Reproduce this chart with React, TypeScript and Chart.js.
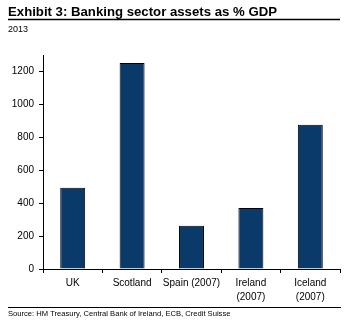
import React, { useEffect, useRef } from "react";
import { Chart, registerables } from "chart.js";

Chart.register(...registerables);

const categories: (string | string[])[] = ["UK", "Scotland", "Spain (2007)", ["Ireland", "(2007)"], ["Iceland", "(2007)"]];
const assetsPctGdp: number[] = [494, 1252, 262, 371, 877];
const yTicks: number[] = [0, 200, 400, 600, 800, 1000, 1200];

const titleText = "Exhibit 3: Banking sector assets as % GDP";
const subtitleText = "2013";
const sourceText = "Source: HM Treasury, Central Bank of Ireland, ECB, Credit Suisse";

const FONT = "'Liberation Sans', Arial, sans-serif";

const decorPlugin = {
  id: "decor",
  afterDraw(chart: any) {
    const ctx = chart.ctx;
    ctx.save();
    ctx.fillStyle = "#000";
    ctx.textBaseline = "alphabetic";
    ctx.textAlign = "left";
    ctx.font = `bold 13.2px ${FONT}`;
    ctx.fillText(titleText, 8, 15.5);
    ctx.font = `9px ${FONT}`;
    ctx.fillText(subtitleText, 8, 32);
    ctx.font = `7.6px ${FONT}`;
    ctx.fillText(sourceText, 8, 315.5);
    ctx.strokeStyle = "#000";
    ctx.lineWidth = 1.3;
    ctx.beginPath();
    ctx.moveTo(8, 19.5);
    ctx.lineTo(340, 19.5);
    ctx.stroke();
    ctx.lineWidth = 1;
    ctx.beginPath();
    ctx.moveTo(8, 307.5);
    ctx.lineTo(341, 307.5);
    ctx.stroke();
    ctx.restore();
  },
};

export default function App() {
  const ref = useRef<HTMLCanvasElement | null>(null);

  useEffect(() => {
    document.body.style.margin = "0";
    const canvas = ref.current;
    if (!canvas) return;
    const chart = new Chart(canvas, {
      type: "bar",
      data: {
        labels: categories,
        datasets: [
          {
            data: assetsPctGdp,
            backgroundColor: "#0a3a6a",
            borderColor: "#000",
            borderWidth: 1,
            barPercentage: 0.42,
            categoryPercentage: 1,
          },
        ],
      },
      options: {
        animation: false,
        responsive: false,
        maintainAspectRatio: false,
        layout: { padding: { left: 0, right: 7, top: 55, bottom: 0 } },
        plugins: {
          legend: { display: false },
          tooltip: { enabled: false },
          title: { display: false },
        },
        scales: {
          x: {
            grid: {
              display: true,
              drawOnChartArea: false,
              drawTicks: true,
              tickLength: 4,
              color: "#000",
              offset: true,
            },
            border: { display: true, color: "#000", width: 1 },
            ticks: {
              color: "#000",
              font: { family: FONT, size: 10, lineHeight: 1.4 },
              padding: 3,
              maxRotation: 0,
              autoSkip: false,
            },
            afterFit: (scale: any) => {
              scale.height = 54;
            },
          },
          y: {
            min: 0,
            max: 1300,
            grid: {
              display: true,
              drawOnChartArea: false,
              drawTicks: true,
              tickLength: 4,
              color: "#000",
            },
            border: { display: true, color: "#000", width: 1 },
            ticks: {
              color: "#000",
              font: { family: FONT, size: 10 },
              padding: 5,
              callback: (v: any) => String(v),
            },
            afterBuildTicks: (scale: any) => {
              scale.ticks = yTicks.map((v) => ({ value: v }));
            },
            afterFit: (scale: any) => {
              scale.width = 43;
            },
          },
        },
      },
      plugins: [decorPlugin],
    });
    return () => chart.destroy();
  }, []);

  return (
    <div style={{ width: 347, height: 323, position: "relative", background: "#fff" }}>
      <canvas ref={ref} width={347} height={323} style={{ display: "block", width: 347, height: 323 }} />
    </div>
  );
}
